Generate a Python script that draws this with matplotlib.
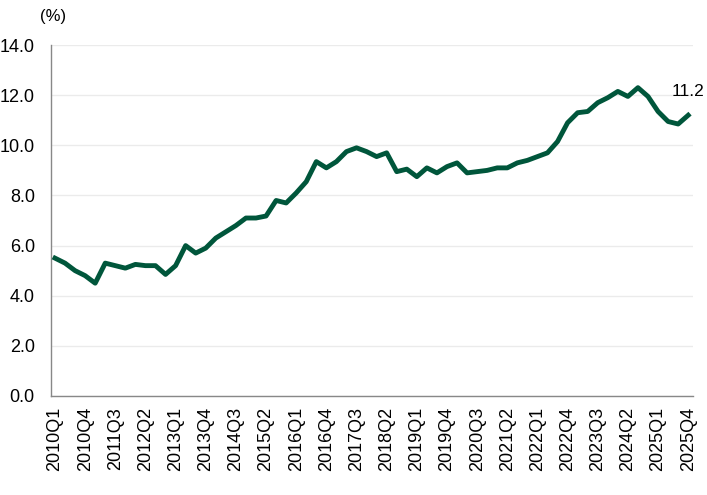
import matplotlib.pyplot as plt

plt.rcParams['font.family'] = ['Liberation Sans', 'DejaVu Sans']

# quarterly series, 2010Q1 .. 2025Q4
years = list(range(2010, 2026))
quarters = ['%dQ%d' % (y, q) for y in years for q in range(1, 5)]
values = [5.5, 5.3, 5.0, 4.8, 4.5, 5.3, 5.2, 5.1, 5.25, 5.2,
          5.2, 4.85, 5.2, 6.0, 5.7, 5.9, 6.3, 6.55, 6.8, 7.1,
          7.1, 7.18, 7.8, 7.7, 8.1, 8.55, 9.35, 9.1, 9.35, 9.75,
          9.9, 9.75, 9.55, 9.7, 8.95, 9.05, 8.75, 9.1, 8.9, 9.15,
          9.3, 8.9, 8.95, 9.0, 9.1, 9.1, 9.3, 9.4, 9.55, 9.7,
          10.15, 10.9, 11.3, 11.35, 11.7, 11.9, 12.15, 11.95, 12.3, 11.95,
          11.35, 10.95, 10.85, 11.2]
y_ticks = [0, 2, 4, 6, 8, 10, 12, 14]

fig = plt.figure(figsize=(7.07, 4.95), dpi=100)
ax = fig.add_axes([0.0728, 0.2, 0.907, 0.709])

x = list(range(len(values)))
ax.plot(x, values, color='#00563b', lw=3.5, solid_joinstyle='round', zorder=3)

ax.annotate('%.1f' % values[-1], (x[-1], values[-1]), xytext=(0, 12),
            textcoords='offset points', ha='center', va='bottom', fontsize=12.5)

ax.set_xlim(-0.35, len(values) - 1 + 0.45)
ax.set_ylim(0, 14)
ax.set_yticks(y_ticks)
ax.set_yticklabels(['%.1f' % v for v in y_ticks])
ax.set_xticks(x[::3])
ax.set_xticklabels(quarters[::3], rotation=90)
ax.tick_params(length=0, labelsize=13)
ax.tick_params(axis='y', pad=12)
ax.tick_params(axis='x', pad=8)

ax.grid(axis='y', color='#ebebeb', lw=1)
ax.set_axisbelow(True)
for s in ['top', 'right']:
    ax.spines[s].set_visible(False)
for s in ['left', 'bottom']:
    ax.spines[s].set_color('#888888')
    ax.spines[s].set_linewidth(1)

fig.text(40 / 707, 1 - 17 / 495, '(%)', fontsize=12, va='center', ha='left')

fig.savefig('out.png', dpi=100)
